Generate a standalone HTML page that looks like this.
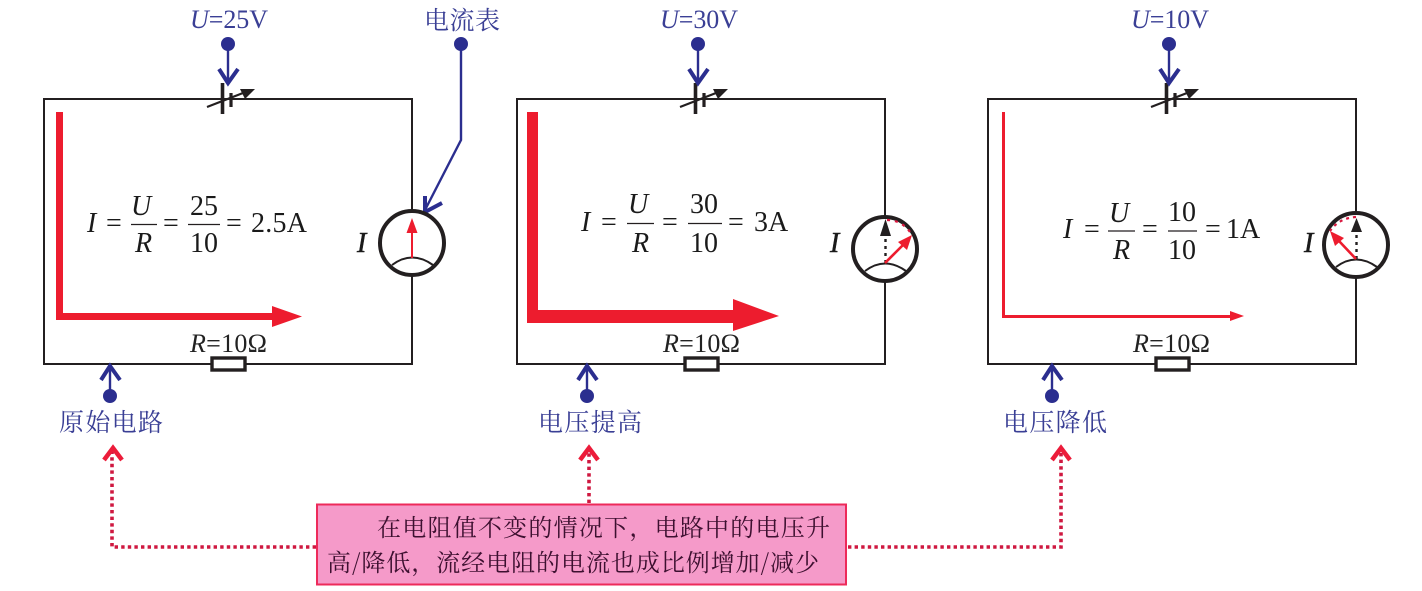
<!DOCTYPE html>
<html><head><meta charset="utf-8"><style>
html,body{margin:0;padding:0;background:#fff}
svg{display:block}
.t{font-family:"Liberation Serif",serif;font-size:28px;fill:#1a1a1a}
.i{font-style:italic}
.u{font-family:"Liberation Serif",serif;font-size:26px;fill:#3a3f95}
.r{font-family:"Liberation Serif",serif;font-size:26px;fill:#222}
.c{font-family:"Noto Serif CJK SC","Liberation Serif",serif;font-size:25px;fill:#3a3f95}
.b{font-family:"Noto Serif CJK SC","Liberation Serif",serif;font-size:24px;fill:#3d1030}
.w{fill:none;stroke:#231f20;stroke-width:2}
.bl{fill:none;stroke:#2b2e8f;stroke-width:2.4}
.ch{fill:none;stroke:#2b2e8f;stroke-width:4}
.rd{fill:none;stroke:#cf1840;stroke-width:3.6;stroke-dasharray:3.4 3.2}
.rc{fill:none;stroke:#ec1c3a;stroke-width:4.500}
</style></head><body>
<svg width="1422" height="591" viewBox="0 0 1422 591" xmlns="http://www.w3.org/2000/svg">
<defs>
<g id="bat">
<path d="M222.5 83V114" stroke="#231f20" stroke-width="3.6" fill="none"/>
<path d="M231 93V107" stroke="#231f20" stroke-width="3.2" fill="none"/>
<path d="M207 107L243 93" stroke="#231f20" stroke-width="2.2" fill="none"/>
<path d="M255 89L240 89L245 99Z" fill="#231f20"/>
</g>
<g id="top">
<circle cx="228" cy="44" r="7" fill="#2b2e8f"/>
<path class="bl" d="M228 44V83"/>
<path class="ch" d="M219 69L228 83L238 69"/>
</g>
<g id="bot">
<circle cx="110" cy="396" r="7" fill="#2b2e8f"/>
<path class="bl" d="M110 396V366"/>
<path class="ch" d="M101 380L110 366L120 380"/>
</g>
<g id="res">
<rect x="212" y="358" width="33" height="12" fill="#fff" stroke="#231f20" stroke-width="3.400"/>
</g>
</defs>

<!-- circuit wires -->
<rect class="w" x="44" y="99" width="368" height="265"/>
<rect class="w" x="517" y="99" width="368" height="265"/>
<rect class="w" x="988" y="99" width="368" height="265"/>

<use href="#bat"/><use href="#bat" x="473"/><use href="#bat" x="944"/>
<use href="#top"/><use href="#top" x="470"/><use href="#top" x="941"/>
<use href="#bot"/><use href="#bot" x="477"/><use href="#bot" x="942"/>
<use href="#res"/><use href="#res" x="473"/><use href="#res" x="944"/>

<!-- current arrows -->
<path d="M56 112H63V313H272V306L302 316.500L272 327V320H56Z" fill="#ed1c2e"/>
<path d="M527 112H538V310H733V299L779 316L733 331V323H527Z" fill="#ed1c2e"/>
<path d="M1002 112H1005V315H1230V311L1244 316L1230 321V318H1002Z" fill="#ed1c2e"/>

<!-- top labels -->
<text class="u" x="190" y="28" textLength="78" lengthAdjust="spacing"><tspan class="i">U</tspan>=25V</text>
<text class="u" x="660" y="28" textLength="78" lengthAdjust="spacing"><tspan class="i">U</tspan>=30V</text>
<text class="u" x="1131" y="28" textLength="78" lengthAdjust="spacing"><tspan class="i">U</tspan>=10V</text>
<text class="c" x="424" y="29" textLength="76" lengthAdjust="spacing">电流表</text>

<!-- ammeter leader -->
<circle cx="461" cy="44" r="7" fill="#2b2e8f"/>
<path class="bl" d="M461 44V140L425 210"/>
<path class="ch" d="M425 196L425 212L442 203"/>

<!-- R labels -->
<text class="r" x="190" y="352" textLength="77" lengthAdjust="spacing"><tspan class="i">R</tspan>=10Ω</text>
<text class="r" x="663" y="352" textLength="77" lengthAdjust="spacing"><tspan class="i">R</tspan>=10Ω</text>
<text class="r" x="1133" y="352" textLength="77" lengthAdjust="spacing"><tspan class="i">R</tspan>=10Ω</text>

<!-- bottom labels -->
<text class="c" x="59" y="431" textLength="104" lengthAdjust="spacing">原始电路</text>
<text class="c" x="538" y="431" textLength="104" lengthAdjust="spacing">电压提高</text>
<text class="c" x="1003" y="431" textLength="104" lengthAdjust="spacing">电压降低</text>

<!-- formula 1 -->
<text class="t i" x="87" y="232">I</text>
<text class="t" x="106" y="232">=</text>
<text class="t i" x="131" y="215">U</text>
<text class="t i" x="135" y="252">R</text>
<path d="M131 224.500H157M188 224.500H220" stroke="#231f20" stroke-width="1.200" fill="none"/>
<text class="t" x="163" y="232">=</text>
<text class="t" x="190" y="215">25</text>
<text class="t" x="190" y="252">10</text>
<text class="t" x="226" y="232">=</text>
<text class="t" x="251" y="232" textLength="56" lengthAdjust="spacing">2.5A</text>

<!-- formula 2 -->
<text class="t i" x="581" y="231">I</text>
<text class="t" x="601" y="231">=</text>
<text class="t i" x="628" y="213">U</text>
<text class="t i" x="632" y="252">R</text>
<path d="M627 223.500H654M688 223.500H722" stroke="#231f20" stroke-width="1.200" fill="none"/>
<text class="t" x="662" y="231">=</text>
<text class="t" x="690" y="213">30</text>
<text class="t" x="690" y="252">10</text>
<text class="t" x="728" y="231">=</text>
<text class="t" x="754" y="231">3A</text>

<!-- formula 3 -->
<text class="t i" x="1063" y="238">I</text>
<text class="t" x="1084" y="238">=</text>
<text class="t i" x="1109" y="222">U</text>
<text class="t i" x="1113" y="259">R</text>
<path d="M1108 231H1135M1168 231H1197" stroke="#231f20" stroke-width="1.200" fill="none"/>
<text class="t" x="1142" y="238">=</text>
<text class="t" x="1168" y="221">10</text>
<text class="t" x="1168" y="259">10</text>
<text class="t" x="1205" y="238">=</text>
<text class="t" x="1226" y="238">1A</text>

<!-- meter 1 -->
<circle cx="412" cy="243" r="32" fill="#fff" stroke="#231f20" stroke-width="4"/>
<path d="M392 265Q412 250 433 265" fill="none" stroke="#231f20" stroke-width="2"/>
<path d="M412 258V230" stroke="#ed1c2e" stroke-width="2" fill="none"/>
<path d="M412 218L417.500 233H406.500Z" fill="#ed1c2e"/>
<text class="t i" x="357" y="252" stroke="#1a1a1a" stroke-width=".5">I</text>

<!-- meter 2 -->
<circle cx="885" cy="249" r="32" fill="#fff" stroke="#231f20" stroke-width="4"/>
<path d="M865 271Q885 256 906 271" fill="none" stroke="#231f20" stroke-width="2"/>
<path d="M885.500 263V234" stroke="#231f20" stroke-width="2.400" stroke-dasharray="3 4" fill="none"/>
<path d="M885.500 219L891 236H880Z" fill="#231f20"/>
<path d="M887 220Q903 220 912 235" stroke="#d9183f" stroke-width="2.200" stroke-dasharray="3 5" fill="none"/>
<path d="M885 263L903 245" stroke="#ed1c2e" stroke-width="2.600" fill="none"/>
<path d="M912 235L898 242L907 250Z" fill="#ed1c2e"/>
<text class="t i" x="830" y="252" stroke="#1a1a1a" stroke-width=".5">I</text>

<!-- meter 3 -->
<circle cx="1356" cy="245" r="32" fill="#fff" stroke="#231f20" stroke-width="4"/>
<path d="M1336 267Q1356 252 1377 267" fill="none" stroke="#231f20" stroke-width="2"/>
<path d="M1356.500 259V232" stroke="#231f20" stroke-width="2.400" stroke-dasharray="3 4" fill="none"/>
<path d="M1356.500 218L1362 232H1351Z" fill="#231f20"/>
<path d="M1356 217Q1339 218 1330 231" stroke="#d9183f" stroke-width="2.200" stroke-dasharray="3 4" fill="none"/>
<path d="M1356 259L1339 241" stroke="#ed1c2e" stroke-width="2.600" fill="none"/>
<path d="M1330 231L1335 246L1344 238Z" fill="#ed1c2e"/>
<text class="t i" x="1304" y="252" stroke="#1a1a1a" stroke-width=".5">I</text>

<!-- red dotted connectors -->
<path class="rd" d="M316 547H112V452"/>
<path class="rd" d="M589 503V452"/>
<path class="rd" d="M848 547H1061V452"/>
<path class="rc" d="M104 460L113 448L122 460"/>
<path class="rc" d="M580 460L589 448L598 460"/>
<path class="rc" d="M1052 460L1061 448L1070 460"/>

<!-- note box -->
<rect x="317" y="504.500" width="529" height="80" fill="#f59ac9" stroke="#ed2a5a" stroke-width="2"/>
<text class="b" x="377" y="536" textLength="453" lengthAdjust="spacing">在电阻值不变的情况下，电路中的电压升</text>
<text class="b" x="327" y="571" textLength="492" lengthAdjust="spacing">高/降低，流经电阻的电流也成比例增加/减少</text>
</svg>
</body></html>
